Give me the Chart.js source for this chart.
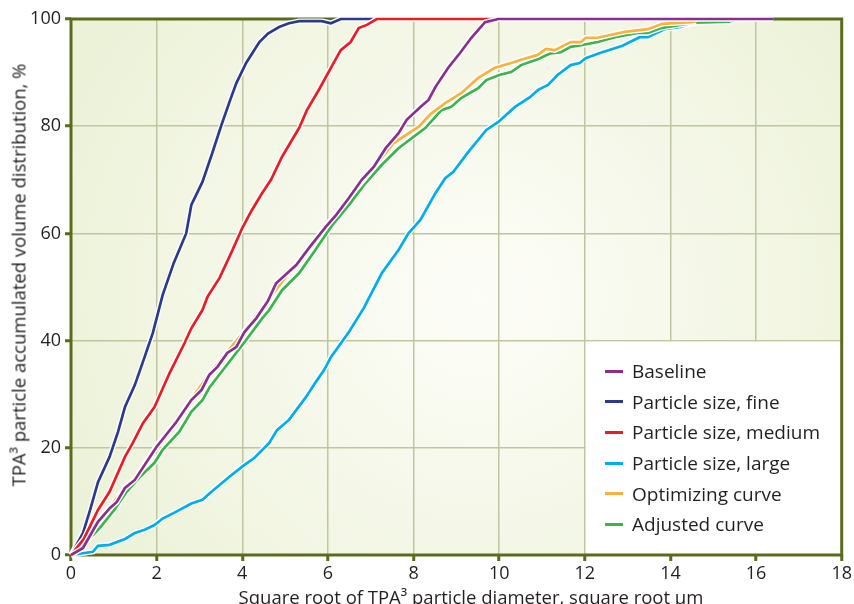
<!DOCTYPE html>
<html>
<head>
<meta charset="utf-8">
<script src="https://cdn.jsdelivr.net/npm/chart.js@4.4.1/dist/chart.umd.min.js"></script>
<style>
html, body { margin: 0; padding: 0; background: #fff; }
#wrap { position: relative; width: 854px; height: 604px; overflow: hidden; font-family: "Open Sans", sans-serif; color: #231f20; }
#chart { position: absolute; left: 0; top: 0; }
.ytitle { position: absolute; left: 18px; top: 275px; transform: translate(-50%, -50%) rotate(-90deg); white-space: nowrap; font-size: 18.5px; }
.xtitle { position: absolute; left: 471px; top: 596px; transform: translate(-50%, -50%); white-space: nowrap; font-size: 18.5px; }
#legend { position: absolute; left: 605px; top: 356px; font-size: 19px; }
#legend .row { height: 30.6px; display: flex; align-items: center; white-space: nowrap; }
#legend .sw { display: inline-block; width: 18px; height: 3px; margin-right: 9px; }
</style>
</head>
<body>
<div id="wrap">
  <canvas id="chart" width="854" height="604"></canvas>
  <div class="ytitle">TPA³ particle accumulated volume distribution, %</div>
  <div class="xtitle">Square root of TPA³ particle diameter, square root µm</div>
  <div id="legend"></div>
</div>
<script>
// series: x = square root of diameter, y = accumulated %
const baselineX = [0, 0.28, 0.63, 0.9, 1.07, 1.26, 1.49, 2.0, 2.46, 2.81, 3.05, 3.23, 3.42, 3.65, 3.86, 4.05, 4.33, 4.6, 4.79, 5.26, 5.56, 5.95, 6.2, 6.49, 6.79, 7.07, 7.35, 7.65, 7.84, 8.16, 8.35, 8.51, 8.81, 9.09, 9.35, 9.67, 9.98, 16.4]
const baselineY = [0, 1.3, 6.2, 8.7, 9.9, 12.5, 14, 20.2, 24.8, 28.9, 30.8, 33.6, 35.1, 37.7, 38.8, 41.6, 44.2, 47.4, 50.7, 54.1, 57.3, 61.2, 63.5, 66.6, 70, 72.4, 75.9, 78.7, 81.2, 83.6, 84.9, 87.3, 90.9, 93.7, 96.5, 99.4, 100, 100]

const fineX = [0, 0.28, 0.45, 0.63, 0.9, 1.1, 1.26, 1.49, 1.7, 1.91, 2.14, 2.4, 2.69, 2.81, 3.07, 3.3, 3.5, 3.7, 3.86, 4.09, 4.4, 4.6, 4.86, 5.09, 5.33, 5.86, 6.07, 6.3, 7.2]
const fineY = [0, 4.1, 8.5, 13.6, 18.3, 23, 27.6, 31.7, 36.5, 41.4, 48.5, 54.5, 60, 65.3, 69.6, 75, 79.9, 84.5, 88, 91.8, 95.7, 97.3, 98.5, 99.2, 99.6, 99.6, 99.2, 100, 100]

const mediumX = [0, 0.3, 0.63, 0.9, 1.26, 1.45, 1.68, 1.95, 2.3, 2.65, 2.81, 3.07, 3.19, 3.47, 3.75, 4.0, 4.2, 4.44, 4.67, 4.93, 5.33, 5.51, 5.79, 6.07, 6.3, 6.53, 6.72, 6.91, 7.14, 10.0]
const mediumY = [0, 3, 8.4, 11.8, 18.3, 21, 24.6, 27.6, 33.9, 39.5, 42.3, 45.7, 48.2, 51.7, 56.5, 61, 64, 67.2, 70, 74.3, 79.7, 83, 86.8, 90.9, 94.2, 95.7, 98.3, 98.9, 100, 100]

const largeX = [0, 0.51, 0.63, 0.9, 1.26, 1.49, 1.72, 1.95, 2.14, 2.46, 2.81, 3.07, 3.28, 3.7, 4.05, 4.28, 4.63, 4.81, 5.09, 5.49, 5.72, 5.91, 6.07, 6.49, 6.84, 7.26, 7.65, 7.88, 8.16, 8.51, 8.74, 8.93, 9.28, 9.7, 9.98, 10.37, 10.72, 10.91, 11.14, 11.37, 11.67, 11.88, 12.02, 12.37, 12.88, 13.28, 13.47, 13.86, 14.23, 14.56, 15.0, 15.5]
const largeY = [0, 0.6, 1.7, 1.9, 3, 4.1, 4.7, 5.6, 6.8, 8.1, 9.6, 10.3, 11.8, 14.6, 16.8, 18.1, 20.9, 23.3, 25.2, 29.5, 32.3, 34.5, 36.9, 41.6, 46.1, 52.6, 56.9, 60, 62.5, 67.5, 70.3, 71.5, 75.2, 79.3, 80.8, 83.6, 85.4, 86.8, 87.7, 89.6, 91.4, 91.8, 92.7, 93.7, 95, 96.6, 96.6, 98.1, 98.5, 99.3, 99.5, 99.7]

const optimizingX = [0, 0.28, 0.63, 0.9, 1.26, 1.49, 2.0, 2.46, 2.81, 3.23, 3.65, 4.05, 4.6, 5.26, 5.95, 6.49, 7.07, 7.53, 8.12, 8.42, 8.74, 9.12, 9.51, 9.9, 10.28, 10.51, 10.9, 11.09, 11.3, 11.67, 11.91, 12.02, 12.3, 12.93, 13.47, 13.81, 14.47, 14.6]
const optimizingY = [0, 1.4, 6.3, 8.8, 12.6, 14.2, 20.4, 25, 29.1, 33.8, 37.9, 41.8, 47.6, 54.3, 61.4, 66.7, 72.3, 76.8, 79.9, 82.4, 84.3, 86.2, 89, 90.9, 91.8, 92.4, 93.3, 94.4, 94.2, 95.7, 95.7, 96.5, 96.5, 97.6, 98.1, 99.1, 99.4, 99.5]

const adjustedX = [0, 0.3, 0.67, 1.0, 1.3, 1.6, 1.95, 2.14, 2.53, 2.81, 3.07, 3.23, 3.5, 3.77, 4.05, 4.47, 4.63, 4.93, 5.33, 5.67, 6.07, 6.53, 6.84, 7.26, 7.65, 8.28, 8.65, 8.88, 9.12, 9.51, 9.7, 10.02, 10.28, 10.51, 10.9, 11.2, 11.44, 11.67, 11.91, 12.3, 12.7, 13.23, 13.47, 13.77, 14.23, 14.56, 15.4]
const adjustedY = [0, 2, 5, 8.3, 11.8, 14.5, 17.2, 19.6, 23, 26.7, 28.9, 31.2, 34, 36.8, 39.7, 44.2, 45.7, 49.4, 52.6, 56.5, 61.2, 65.7, 69, 72.8, 75.9, 79.7, 83, 83.6, 85.3, 87.1, 88.6, 89.6, 90.1, 91.4, 92.5, 93.6, 93.8, 94.8, 95.1, 95.7, 96.6, 97.4, 97.4, 98.3, 98.9, 99.3, 99.5]

const seriesNames = ['Baseline', 'Particle size, fine', 'Particle size, medium', 'Particle size, large', 'Optimizing curve', 'Adjusted curve']
const seriesX = [baselineX, fineX, mediumX, largeX, optimizingX, adjustedX]
const seriesY = [baselineY, fineY, mediumY, largeY, optimizingY, adjustedY]
const seriesColors = ['#8b2e8e', '#2b3990', '#ed1c24', '#00aeef', '#fbb040', '#39b54a']
// painting order, bottom first
const stacking = [3, 5, 4, 1, 2, 0]

const xTicks = [0, 2, 4, 6, 8, 10, 12, 14, 16, 18]
const yTicks = [0, 20, 40, 60, 80, 100]

const olive = '#5b6b1c'
const gridColor = '#bfc59f'

function points(xs, ys) {
    return xs.map((x, i) => ({ x: x, y: ys[i] }))
}

// the plot background, the white panel under the legend and the frame
const paperPlugin = {
    id: 'paper',
    beforeDraw(chart) {
        const { ctx, chartArea: a } = chart
        const cx = a.left + a.width * 0.53, cy = a.top + a.height * 0.52
        const g = ctx.createRadialGradient(cx, cy, 0, cx, cy, a.width * 0.6)
        g.addColorStop(0, '#fdfdf8')
        g.addColorStop(1, '#ecf2d8')
        ctx.save()
        ctx.fillStyle = g
        ctx.fillRect(a.left, a.top, a.width, a.height)
        ctx.restore()
    },
    beforeDatasetsDraw(chart) {
        const { ctx, chartArea: a, scales } = chart
        const left = scales.x.getPixelForValue(12) + 1
        const top = scales.y.getPixelForValue(40) + 1
        ctx.save()
        ctx.fillStyle = '#fff'
        ctx.fillRect(left, top, a.right - left, a.bottom - top)
        ctx.strokeStyle = olive
        ctx.lineWidth = 3
        ctx.strokeRect(a.left, a.top, a.width, a.height)
        ctx.restore()
    }
}

window.onload = () => {
    const datasets = []
    stacking.forEach((s, i) => {
        const data = points(seriesX[s], seriesY[s])
        const order = (stacking.length - i) * 2
        datasets.push({ data: data, borderColor: '#fff', borderWidth: 5.5, pointRadius: 0, tension: 0, clip: 6, order: order + 1 })
        datasets.push({ label: seriesNames[s], data: data, borderColor: seriesColors[s], borderWidth: 2.7, pointRadius: 0, tension: 0, clip: 6, order: order })
    })

    $legend = document.getElementById('legend')
    $legend.innerHTML = seriesNames.map((name, i) => `
        <div class="row"><span class="sw" style="background:${seriesColors[i]}"></span>${name}</div>
    `).join('')

    const tickFont = { family: '"Open Sans", sans-serif', size: 18 }

    new Chart(document.getElementById('chart'), {
        type: 'line',
        data: { datasets: datasets },
        options: {
            responsive: false,
            animation: false,
            events: [],
            layout: { padding: { top: 19, right: 9, left: 0, bottom: 0 } },
            plugins: { legend: { display: false }, tooltip: { enabled: false } },
            scales: {
                x: {
                    type: 'linear', min: 0, max: 18,
                    afterBuildTicks: scale => { scale.ticks = xTicks.map(v => ({ value: v })) },
                    afterFit: scale => { scale.height = 49 },
                    grid: { color: gridColor, lineWidth: 1.5, tickColor: olive, tickWidth: 3, tickLength: 6 },
                    border: { display: false },
                    ticks: { font: tickFont, color: '#231f20', padding: 2, maxRotation: 0 }
                },
                y: {
                    min: 0, max: 100,
                    afterBuildTicks: scale => { scale.ticks = yTicks.map(v => ({ value: v })) },
                    afterFit: scale => { scale.width = 71 },
                    grid: { color: gridColor, lineWidth: 1.5, tickColor: olive, tickWidth: 3, tickLength: 6 },
                    border: { display: false },
                    ticks: { font: tickFont, color: '#231f20', padding: 4 }
                }
            }
        },
        plugins: [paperPlugin]
    })
}
</script>
</body>
</html>
